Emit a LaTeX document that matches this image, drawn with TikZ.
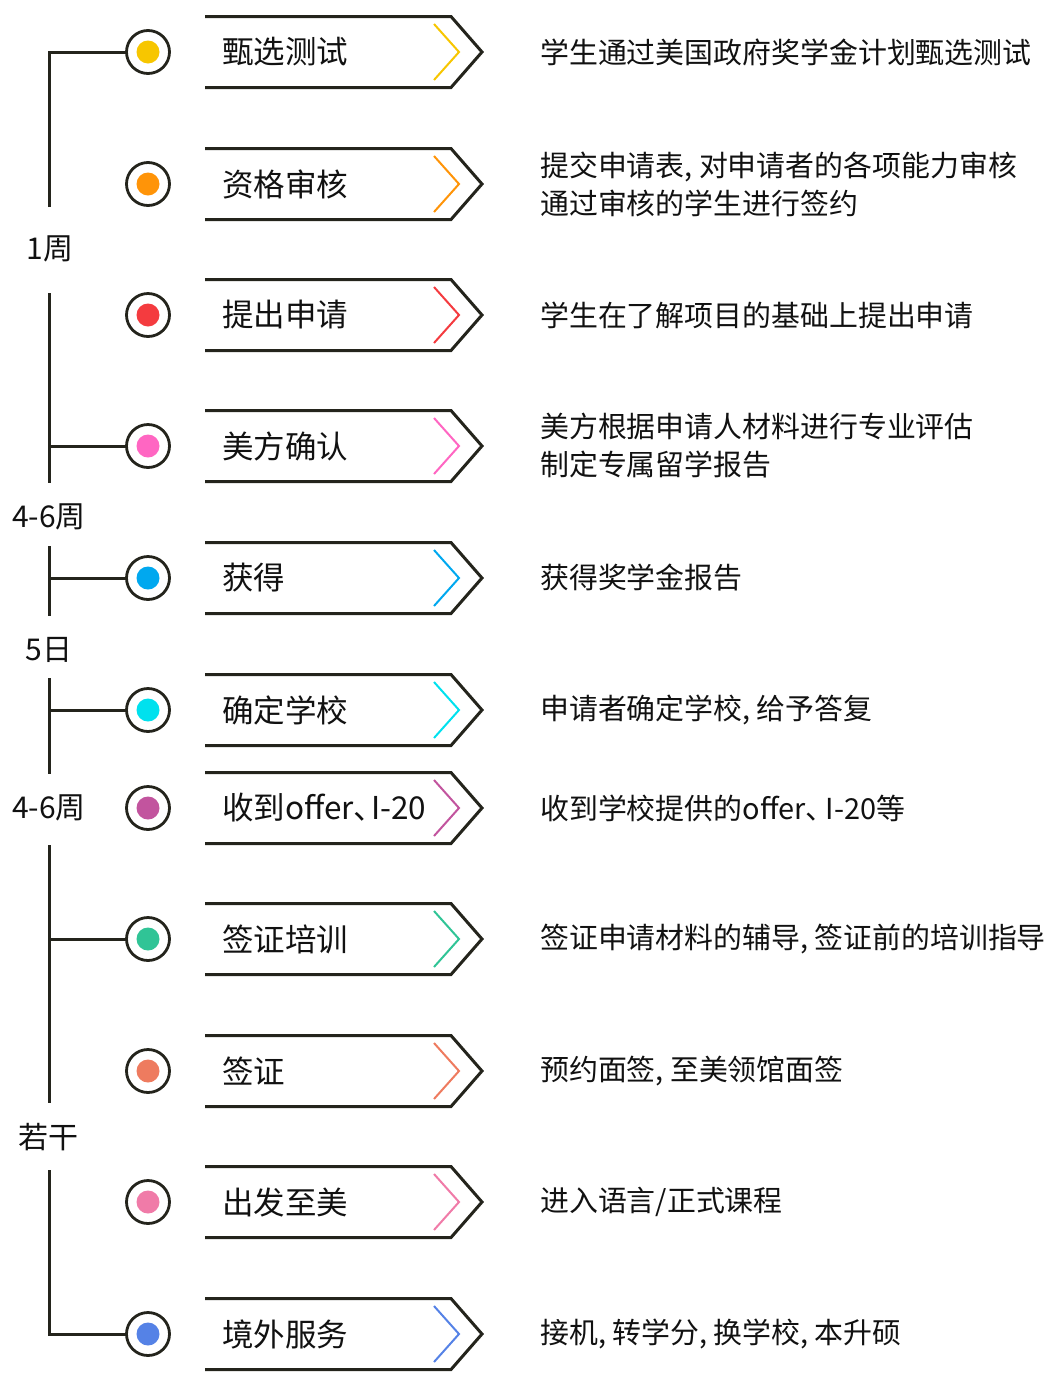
\documentclass[tikz,border=0pt]{standalone}
\usepackage{fontspec}
\setmainfont{Noto Sans CJK SC}
\definecolor{lineclr}{HTML}{24241C}
\definecolor{txtclr}{HTML}{111111}
\definecolor{k1}{HTML}{F7C600}
\definecolor{k2}{HTML}{FF9408}
\definecolor{k3}{HTML}{F43B3F}
\definecolor{k4}{HTML}{FF66C2}
\definecolor{k5}{HTML}{00A8EF}
\definecolor{k6}{HTML}{00E1EE}
\definecolor{k7}{HTML}{C2549E}
\definecolor{k8}{HTML}{30C496}
\definecolor{k9}{HTML}{EE7B5F}
\definecolor{k10}{HTML}{F07BA8}
\definecolor{k11}{HTML}{5582E6}
\newcommand\cm{,\kern0.22em}
\tikzset{
  ln/.style={draw=lineclr,line width=3pt},
  dotring/.style={circle,draw=lineclr,line width=2.8pt,fill=white,minimum size=43pt,inner sep=0pt},
  boxline/.style={draw=lineclr,line width=3pt,line join=miter},
  chev/.style={line width=2pt},
  boxtext/.style={anchor=west,inner sep=0pt,text=txtclr,font=\fontsize{31.5}{36}\selectfont},
  desc/.style={anchor=west,inner sep=0pt,text=txtclr,align=left,font=\fontsize{28.9}{39}\selectfont},
  lbl/.style={inner sep=0pt,text=txtclr,font=\fontsize{30}{34}\selectfont},
}
\newcommand\steprow[5]{%
  \draw[boxline] (205,#2-35.5) -- (451,#2-35.5) -- (482,#2) -- (451,#2+35.5) -- (205,#2+35.5);
  \draw[#3,chev] (434,#2-28) -- (459,#2) -- (434,#2+28);
  \node[boxtext] (b#1) at (222,#2) {#4};
  \node[desc] (d#1) at (540,#2) {#5};
  \node[dotring] (c#1) at (148,#2) {};
  \fill[#3] (c#1.center) circle (11.5pt);
}
\begin{document}
\begin{tikzpicture}[x=1pt,y=-1pt]
\useasboundingbox (0,0) rectangle (1056,1382);
% timeline segments (drawn first)
\coordinate (s1b) at (49,207);
\coordinate (s2t) at (49,293); \coordinate (s2b) at (49,483); \coordinate (s2m) at (49,446);
\coordinate (s3t) at (49,546); \coordinate (s3b) at (49,616); \coordinate (s3m) at (49,578);
\coordinate (s4t) at (49,678); \coordinate (s4b) at (49,774); \coordinate (s4m) at (49,710);
\coordinate (s5t) at (49,845); \coordinate (s5b) at (49,1103); \coordinate (s5m) at (49,939);
\coordinate (s6t) at (49,1170);
\draw[ln] (s1b) |- (148,52);
\draw[ln] (s2t) -- (s2b);
\draw[ln] (s2m) -- (148,446);
\draw[ln] (s3t) -- (s3b);
\draw[ln] (s3m) -- (148,578);
\draw[ln] (s4t) -- (s4b);
\draw[ln] (s4m) -- (148,710);
\draw[ln] (s5t) -- (s5b);
\draw[ln] (s5m) -- (148,939);
\draw[ln] (s6t) |- (148,1334);
% rows
\steprow{1}{52}{k1}{甄选测试}{学生通过美国政府奖学金计划甄选测试}
\steprow{2}{184}{k2}{资格审核}{提交申请表\cm 对申请者的各项能力审核\\[-1pt]通过审核的学生进行签约}
\steprow{3}{315}{k3}{提出申请}{学生在了解项目的基础上提出申请}
\steprow{4}{446}{k4}{美方确认}{美方根据申请人材料进行专业评估\\[-1pt]制定专属留学报告}
\steprow{5}{578}{k5}{获得}{获得奖学金报告}
\steprow{6}{710}{k6}{确定学校}{申请者确定学校\cm 给予答复}
\steprow{7}{808}{k7}{收到offer、\kern-0.45em I-20}{收到学校提供的offer、\kern-0.3em I-20等}
\steprow{8}{939}{k8}{签证培训}{签证申请材料的辅导\cm 签证前的培训指导}
\steprow{9}{1071}{k9}{签证}{预约面签\cm 至美领馆面签}
\steprow{10}{1202}{k10}{出发至美}{进入语言/正式课程}
\steprow{11}{1334}{k11}{境外服务}{接机\cm 转学分\cm 换学校\cm 本升硕}
% duration labels
\node[lbl] (l1) at (50,249) {1周};
\node[lbl] (l2) at (49,517) {4-6周};
\node[lbl] (l3) at (49,650) {5日};
\node[lbl] (l4) at (49,808) {4-6周};
\node[lbl] (l5) at (49,1137) {若干};
\end{tikzpicture}
\end{document}
